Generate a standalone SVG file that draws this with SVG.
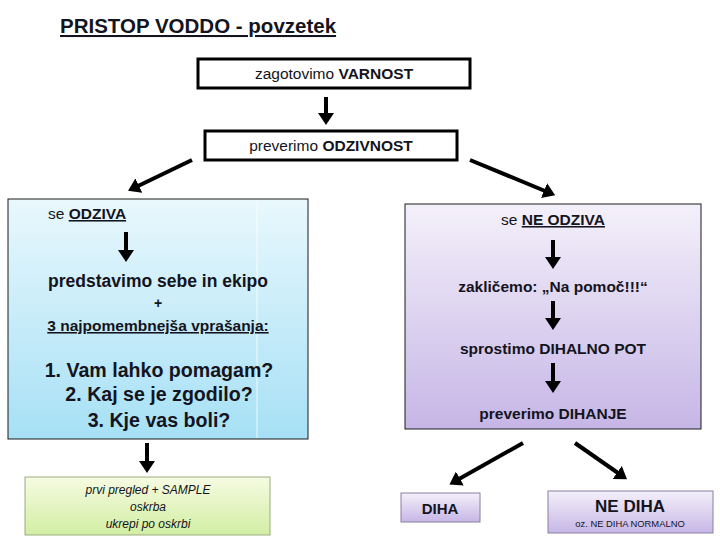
<svg xmlns="http://www.w3.org/2000/svg" width="720" height="540" viewBox="0 0 720 540">
<style>
text{font-family:"Liberation Sans","Open Sans",Arial,sans-serif;fill:#141420}
.b{font-weight:bold}
.c{text-anchor:middle}
.u{text-decoration:underline}
.box{fill:#fff;stroke:#000;stroke-width:3}
.ln{stroke:#000;stroke-width:4;fill:none}
</style>
<defs>
<marker id="ah" markerUnits="userSpaceOnUse" markerWidth="12" markerHeight="16" viewBox="0 0 12 16" refX="1" refY="8" orient="auto">
<path d="M0,0 L12,8 L0,16 z" fill="#000"/>
</marker>
<linearGradient id="gb" x1="0" y1="0" x2="0" y2="1"><stop offset="0" stop-color="#e9f8fd"/><stop offset="1" stop-color="#a6e0f5"/></linearGradient>
<linearGradient id="gv" x1="0" y1="0" x2="0" y2="1"><stop offset="0" stop-color="#f4f0fa"/><stop offset="1" stop-color="#c6b6e6"/></linearGradient>
<linearGradient id="gg" x1="0" y1="0" x2="0" y2="1"><stop offset="0" stop-color="#f6fbe2"/><stop offset="1" stop-color="#d2eea2"/></linearGradient>
</defs>

<text x="60" y="33" class="b u" font-size="20.5">PRISTOP VODDO - povzetek</text>

<g id="varnost">
<rect class="box" x="198" y="59" width="272" height="29"/>
<text x="334" y="79" class="c" font-size="15.5">zagotovimo <tspan class="b">VARNOST</tspan></text>
</g>

<g id="odzivnost">
<rect class="box" x="205" y="131" width="252" height="29"/>
<text x="331" y="151" class="c" font-size="15.5">preverimo <tspan class="b">ODZIVNOST</tspan></text>
</g>

<g id="odziva">
<rect x="8" y="199" width="300" height="240" fill="url(#gb)" stroke="#1a1a1a" stroke-width="1"/>
<line x1="257" y1="200" x2="257" y2="438" stroke="#ffffff" stroke-width="1" opacity="0.8"/>
<text x="48" y="219" font-size="15.5">se <tspan class="b u">ODZIVA</tspan></text>
<text x="158" y="287" class="c b" font-size="17.5">predstavimo sebe in ekipo</text>
<text x="158" y="308" class="c b" font-size="14">+</text>
<text x="158" y="331" class="c b u" font-size="15.5">3 najpomembnejša vprašanja:</text>
<text x="159" y="377" class="c b" font-size="19.6">1.  Vam lahko pomagam?</text>
<text x="159" y="401" class="c b" font-size="19.6">2.  Kaj se je zgodilo?</text>
<text x="159" y="427" class="c b" font-size="19.6">3.  Kje vas boli?</text>
</g>

<g id="oskrba">
<rect x="25" y="477" width="245" height="58" fill="url(#gg)" stroke="#9aab80" stroke-width="1"/>
<text x="148" y="494" class="c" font-size="12" font-style="italic">prvi pregled + SAMPLE</text>
<text x="148" y="511" class="c" font-size="12" font-style="italic">oskrba</text>
<text x="148" y="528" class="c" font-size="12" font-style="italic">ukrepi po oskrbi</text>
</g>

<g id="ne-odziva">
<rect x="405" y="204" width="296" height="225" fill="url(#gv)" stroke="#1a1a1a" stroke-width="1"/>
<text x="553" y="225" class="c" font-size="15.5">se <tspan class="b u">NE ODZIVA</tspan></text>
<text x="553" y="292" class="c b" font-size="15.5">zakličemo: „Na pomoč!!!“</text>
<text x="553" y="354" class="c b" font-size="15.5">sprostimo DIHALNO POT</text>
<text x="553" y="419" class="c b" font-size="15.5">preverimo DIHANJE</text>
</g>

<g id="diha">
<rect x="401" y="493" width="79" height="29" fill="url(#gv)" stroke="#8a7fa0" stroke-width="1"/>
<text x="440" y="514" class="c b" font-size="15">DIHA</text>
</g>

<g id="ne-diha">
<rect x="548" y="491" width="165" height="42" fill="url(#gv)" stroke="#8a7fa0" stroke-width="1"/>
<text x="630" y="512" class="c b" font-size="17">NE DIHA</text>
<text x="630" y="527" class="c" font-size="9.4">oz. NE DIHA NORMALNO</text>
</g>

<g id="connectors">
<line class="ln" x1="326" y1="97" x2="326" y2="114" marker-end="url(#ah)"/>
<line class="ln" x1="192" y1="160" x2="138" y2="186" marker-end="url(#ah)"/>
<line class="ln" x1="470" y1="160" x2="545" y2="191" marker-end="url(#ah)"/>
<line class="ln" x1="126" y1="232" x2="126" y2="251" marker-end="url(#ah)"/>
<line class="ln" x1="553" y1="240" x2="553" y2="258" marker-end="url(#ah)"/>
<line class="ln" x1="553" y1="301" x2="553" y2="319" marker-end="url(#ah)"/>
<line class="ln" x1="553" y1="363" x2="553" y2="382" marker-end="url(#ah)"/>
<line class="ln" x1="147" y1="443" x2="147" y2="462" marker-end="url(#ah)"/>
<line class="ln" x1="523" y1="443" x2="459" y2="479" marker-end="url(#ah)"/>
<line class="ln" x1="575" y1="443" x2="618" y2="473" marker-end="url(#ah)"/>
</g>
</svg>
